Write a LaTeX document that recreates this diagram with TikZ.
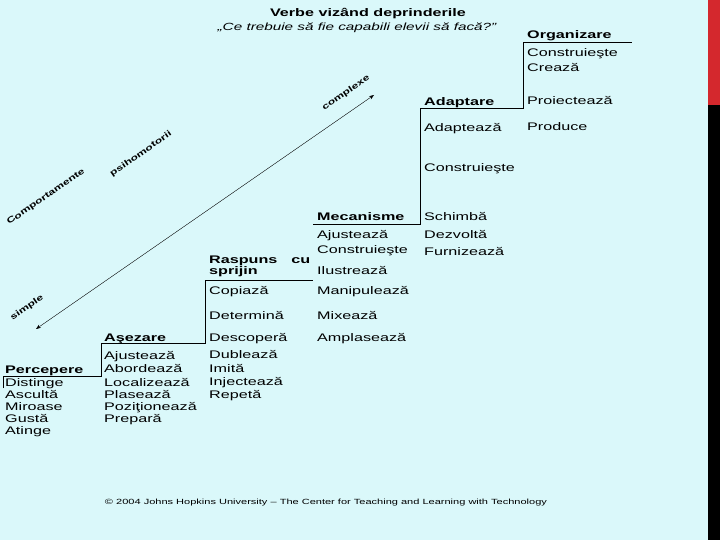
\documentclass[tikz,border=0pt]{standalone}
\usepackage{fontspec}
\setmainfont{Liberation Sans}[FakeStretch=1.47]
\usepackage{tikz}
\usetikzlibrary{arrows.meta,positioning}
\definecolor{paleaqua}{RGB}{218, 248, 250}
\definecolor{barred}{RGB}{212, 40, 45}

\tikzset{
  verb/.style={anchor=base west, inner sep=0pt, font=\fontsize{11}{12}\selectfont},
  level/.style={verb, font=\fontsize{11}{12}\selectfont\bfseries},
  axis/.style={inner sep=0pt, font=\fontsize{8.2}{10}\selectfont\bfseries, rotate=34.7},
  stair/.style={black, line width=1pt}
}

\begin{document}
\begin{tikzpicture}[x=1pt, y=-1pt]

% Background and side bar
\useasboundingbox (0,0) rectangle (720,540);
\fill[paleaqua] (0,0) rectangle (720,540);
\fill[barred] (708,0) rectangle (720,105);
\fill[black] (708,105) rectangle (720,540);

% Title
\node[inner sep=0pt, font=\fontsize{11}{12}\selectfont\bfseries] (title) at (368,14) {Verbe vizând deprinderile};
\node[inner sep=0pt, font=\fontsize{10.4}{12}\selectfont\itshape] (subtitle) at (357,28) {„Ce trebuie să fie capabili elevii să facă?”};

% Staircase
\draw[stair] (3,388) -- (3,376) -- (101,376) -- (101,343) -- (205,343) -- (205,280) -- (313,280);
\draw[stair] (313,225) -- (420,225) -- (420,109) -- (523,109) -- (523,43) -- (632,43);

% Level names (baseline = centre + 4)
\node[level] (perc) at (5,373) {Percepere};
\node[level] (asez) at (104,341) {Aşezare};
\node[level, text width=101pt, align=left] (rasp) at (209,263) {Raspuns \hfill cu\\[-1pt]sprijin};
\node[level] (meca) at (317,221) {Mecanisme};
\node[level] (adap) at (424,106) {Adaptare};
\node[level] (orga) at (527,39) {Organizare};

% Verb columns
\foreach \w/\y in {Distinge/382, Ascultă/394, Miroase/406, Gustă/418, Atinge/430}
  \node[verb] at (5,\y+4) {\w};
\foreach \w/\y in {Ajustează/355, Abordează/368, Localizează/382, Plasează/394, Poziţionează/406, Prepară/418}
  \node[verb] at (104,\y+4) {\w};
\foreach \w/\y in {Copiază/290, Determină/315, Descoperă/337, Dublează/354, Imită/368, Injectează/381, Repetă/394}
  \node[verb] at (209,\y+4) {\w};
\foreach \w/\y in {Ajustează/235, Construieşte/250, Ilustrează/270, Manipulează/290, Mixează/315, Amplasează/337}
  \node[verb] at (317,\y+4) {\w};
\foreach \w/\y in {Adaptează/128, Construieşte/168, Schimbă/217, Dezvoltă/235, Furnizează/251}
  \node[verb] at (424,\y+4) {\w};
\foreach \w/\y in {Construieşte/53, Crează/68, Proiectează/101, Produce/127}
  \node[verb] at (527,\y+4) {\w};

% Diagonal axis
\coordinate (lo) at (36,329);
\coordinate (hi) at (374,95);
\draw[{Stealth[length=5pt]}-{Stealth[length=5pt]}, thin] (lo) -- (hi);
\node[axis] (simple) at (27,308) {simple};
\node[axis] (comport) at (46,197) {Comportamente};
\node[axis] (psiho) at (141,154) {psihomotorii};
\node[axis] (complex) at (346,93) {complexe};

% Credit line
\node[inner sep=0pt, font=\fontsize{7.5}{9}\selectfont] (credit) at (326,503) {© 2004 Johns Hopkins University – The Center for Teaching and Learning with Technology};

\end{tikzpicture}
\end{document}
